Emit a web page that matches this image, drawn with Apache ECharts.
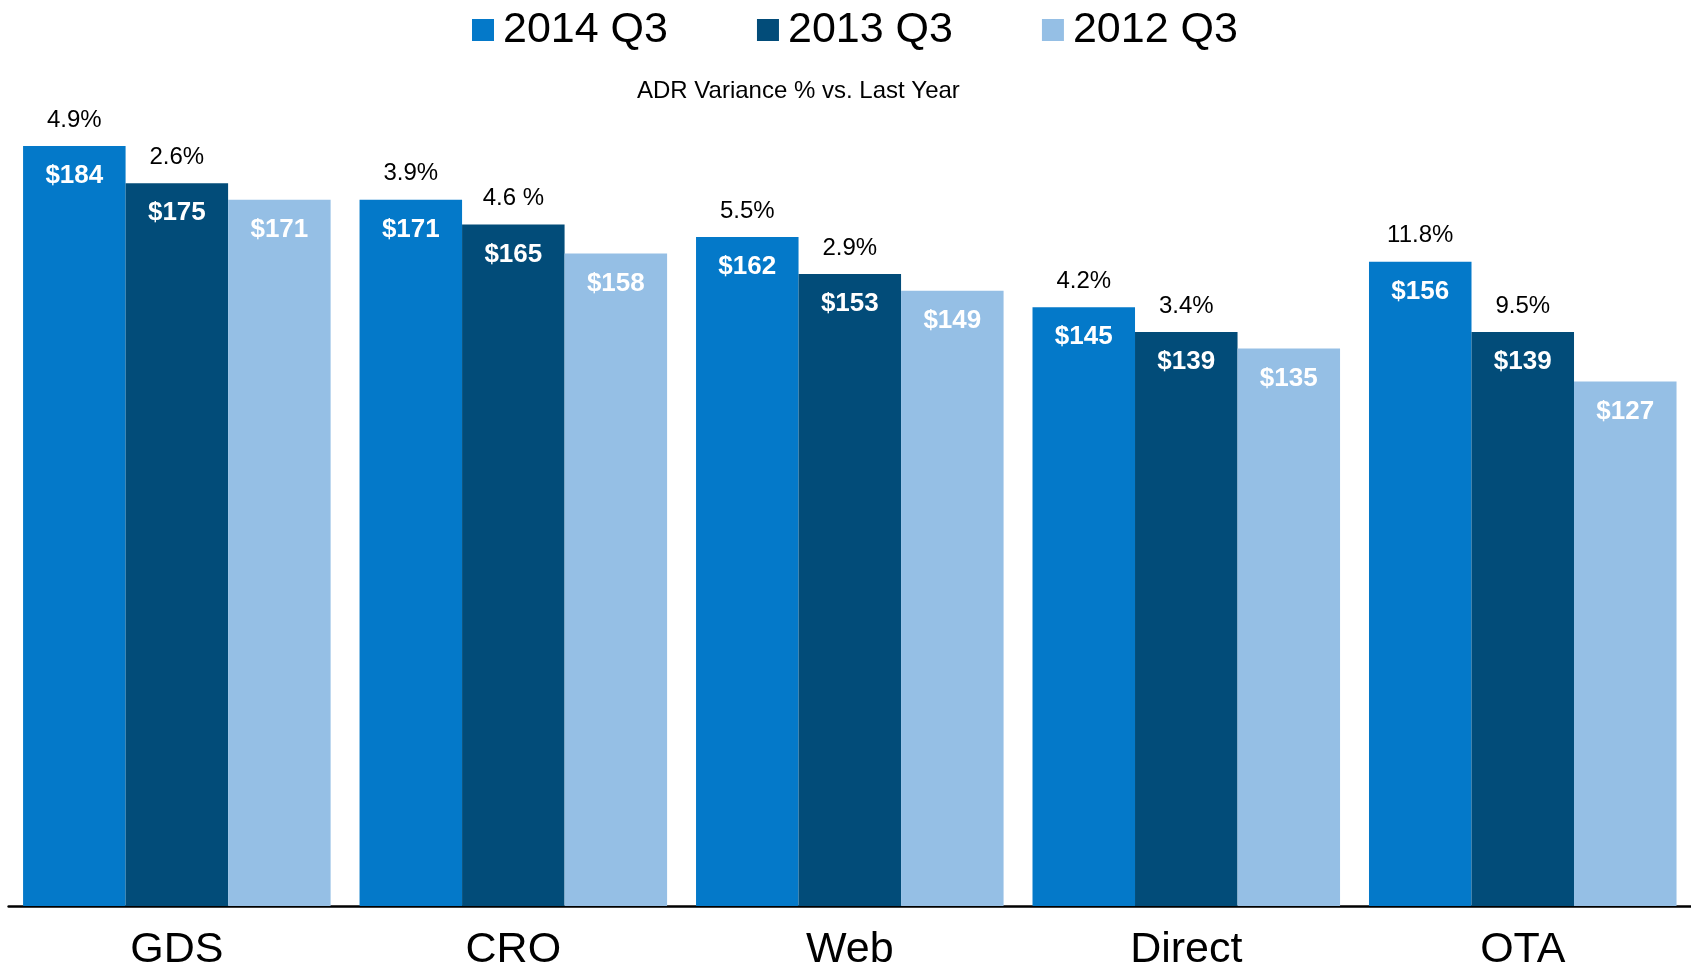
<!DOCTYPE html>
<html>
<head>
<meta charset="utf-8">
<script src="https://cdn.jsdelivr.net/npm/echarts@6/dist/echarts.min.js"></script>
<style>
html,body{margin:0;padding:0;background:#fff;}
#chart{width:1691px;height:967px;}
</style>
</head>
<body>
<div id="chart"></div>
<script>
const categories = ['GDS', 'CRO', 'Web', 'Direct', 'OTA'];
const seriesNames = ['2014 Q3', '2013 Q3', '2012 Q3'];
const adr2014 = [184, 171, 162, 145, 156];
const adr2013 = [175, 165, 153, 139, 139];
const adr2012 = [171, 158, 149, 135, 127];
const variance2014 = ['4.9%', '3.9%', '5.5%', '4.2%', '11.8%'];
const variance2013 = ['2.6%', '4.6 %', '2.9%', '3.4%', '9.5%'];
const subtitle = 'ADR Variance % vs. Last Year';

const colors = ['#0479C9', '#024C79', '#95BFE5'];
const FONT = "'Liberation Sans', Arial, sans-serif";

const chart = echarts.init(document.getElementById('chart'), null, {renderer: 'canvas'});

function valueSeries(name, values, color, stack) {
  return {
    name: name,
    type: 'bar',
    stack: stack,
    data: values,
    itemStyle: {color: color},
    barCategoryGap: '8.6%',
    barGap: '0%',
    label: {
      show: true,
      position: 'insideTop',
      distance: 17,
      formatter: p => '$' + p.value,
      color: '#fff',
      fontWeight: 'bold',
      fontSize: 26,
      fontFamily: FONT
    },
    emphasis: {disabled: true}
  };
}
function varianceSeries(texts, stack) {
  return {
    type: 'bar',
    stack: stack,
    data: texts.map(() => 0),
    itemStyle: {color: 'transparent'},
    barCategoryGap: '8.6%',
    barGap: '0%',
    label: {
      show: true,
      position: 'top',
      distance: 14,
      formatter: p => texts[p.dataIndex],
      color: '#000',
      fontSize: 24,
      fontFamily: FONT
    },
    emphasis: {disabled: true},
    silent: true
  };
}

chart.setOption({
  animation: false,
  backgroundColor: '#fff',
  title: {
    text: subtitle,
    left: 632,
    top: 74,
    textStyle: {fontSize: 24, fontWeight: 'normal', color: '#000', fontFamily: FONT, lineHeight: 24}
  },
  legend: {
    data: seriesNames,
    left: 467,
    top: 3,
    itemWidth: 22,
    itemHeight: 22,
    itemGap: 89,
    icon: 'rect',
    textStyle: {fontSize: 43, color: '#000', fontFamily: FONT, lineHeight: 44, padding: [0, 0, 0, 4]}
  },
  grid: {left: 8.6, right: 0, top: 80, bottom: 61, containLabel: false, outerBoundsMode: 'none'},
  xAxis: {
    type: 'category',
    data: categories,
    axisTick: {show: false},
    axisLine: {show: true, lineStyle: {color: '#000', width: 2.5}},
    axisLabel: {fontSize: 43, color: '#000', fontFamily: FONT, margin: 23, lineHeight: 43}
  },
  yAxis: {
    type: 'value',
    min: 0,
    max: 200,
    show: false,
    splitLine: {show: false}
  },
  series: [
    valueSeries(seriesNames[0], adr2014, colors[0], 's14'),
    varianceSeries(variance2014, 's14'),
    valueSeries(seriesNames[1], adr2013, colors[1], 's13'),
    varianceSeries(variance2013, 's13'),
    valueSeries(seriesNames[2], adr2012, colors[2], 's12')
  ]
});
</script>
</body>
</html>
